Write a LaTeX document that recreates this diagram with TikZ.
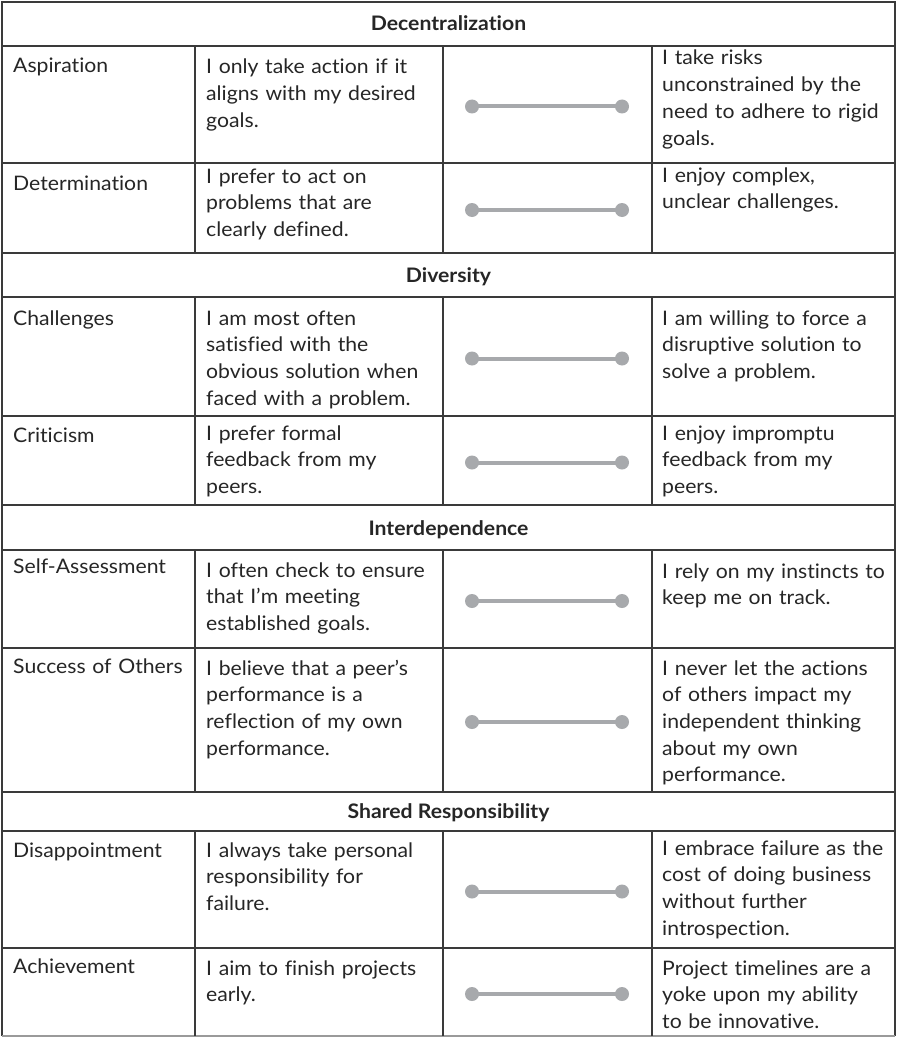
\documentclass[tikz,border=0pt]{standalone}
\usepackage{fontspec}
\setmainfont{Lato}[FakeStretch=1.06, Ligatures=NoCommon]
\definecolor{rulecol}{HTML}{3A3A3A}
\definecolor{ink}{HTML}{262626}
\definecolor{knobcol}{HTML}{A7A9AC}
\definecolor{edgecol}{HTML}{9A9A9A}

\tikzset{
  gridline/.style={draw=rulecol, line width=2pt},
  cell/.style={anchor=base west, inner sep=0pt, text width=#1, align=left,
    font=\fontsize{20}{26.7}\selectfont, text=ink},
  heading/.style={anchor=base, inner sep=0pt,
    font=\fontsize{20}{22}\selectfont\bfseries, text=ink},
  knob/.style={circle, fill=knobcol, draw=none, minimum size=14pt, inner sep=0pt},
  track/.style={draw=knobcol, line width=4pt},
}

% one trait row: id, top, bottom, baseline of name / low end / high end, texts
\newcommand\traitrow[9]{%
  \draw[gridline] (195,#2) -- (195,#3) (443,#2) -- (443,#3) (652,#2) -- (652,#3);
  \node[cell=180pt] (#1-name) at (13,#4) {#7};
  \node[cell=250pt] (#1-low) at (206,#5) {#8};
  \node[cell=250pt] (#1-high) at (662,#6) {#9};
  \pgfmathsetmacro\sliderY{(#2+#3)/2+2}
  \node[knob] (#1-l) at (472,\sliderY) {};
  \node[knob] (#1-r) at (622,\sliderY) {};
  \draw[track] (#1-l.center) -- (#1-r.center);
}

\begin{document}
\begin{tikzpicture}[x=1pt,y=-1pt]
\useasboundingbox (0,0) rectangle (897,1038);
\fill[white] (0,0) rectangle (897,1038);

% outer frame and row separators
\draw[gridline] (2,1036) -- (2,2) -- (895,2) -- (895,1036);
\foreach \yy in {46,163,253,297,416,505,550,648,792,831,948}
  \draw[gridline] (2,\yy) -- (895,\yy);
\draw[draw=edgecol, line width=2pt] (2,1036) -- (895,1036);

% section headings
\node[heading] (h1) at (448.5,31) {Decentralization};
\node[heading] (h2) at (448.5,282) {Diversity};
\node[heading] (h3) at (448.5,535) {Interdependence};
\node[heading] (h4) at (448.5,818) {Shared Responsibility};

\traitrow{asp}{46}{163}{73}{74}{65}{Aspiration}
  {I only take action if it\\aligns with my desired\\goals.}
  {I take risks\\unconstrained by the\\need to adhere to rigid\\goals.}
\traitrow{det}{163}{253}{190}{183}{182}{Determination}
  {I prefer to act on\\problems that are\\clearly defined.}
  {I enjoy complex,\\unclear challenges.}
\traitrow{cha}{297}{416}{325}{325}{325}{Challenges}
  {I am most often\\satisfied with the\\obvious solution when\\faced with a problem.}
  {I am willing to force a\\disruptive solution to\\solve a problem.}
\traitrow{cri}{416}{505}{442}{440}{440}{Criticism}
  {I prefer formal\\feedback from my\\peers.}
  {I enjoy impromptu\\feedback from my\\peers.}
\traitrow{sel}{550}{648}{573}{577}{578}{Self-Assessment}
  {I often check to ensure\\that I’m meeting\\established goals.}
  {I rely on my instincts to\\keep me on track.}
\traitrow{suc}{648}{792}{673}{675}{675}{Success of Others}
  {I believe that a peer’s\\performance is a\\reflection of my own\\performance.}
  {I never let the actions\\of others impact my\\independent thinking\\about my own\\performance.}
\traitrow{dis}{831}{948}{857}{857}{855}{Disappointment}
  {I always take personal\\responsibility for\\failure.}
  {I embrace failure as the\\cost of doing business\\without further\\introspection.}
\traitrow{ach}{948}{1036}{973}{975}{975}{Achievement}
  {I aim to finish projects\\early.}
  {Project timelines are a\\yoke upon my ability\\to be innovative.}
\end{tikzpicture}
\end{document}
